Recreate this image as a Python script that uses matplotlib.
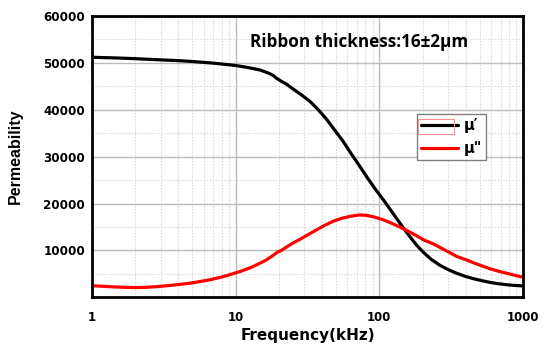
import matplotlib
matplotlib.use("Agg")
import matplotlib.pyplot as plt
from matplotlib.patches import Rectangle
from matplotlib.ticker import LogLocator, MultipleLocator, FixedLocator, NullFormatter

# Real part of permeability, mu'
freq_mu1 = [1, 1.5, 2, 3, 4, 5, 7, 10, 12, 14.8, 17, 18.3, 19.3, 20.5, 22.5,
            25.2, 28.5, 32.9, 37.5, 42.9, 48.5, 55.9, 63.5, 72.9, 83, 95.5,
            107, 118.6, 132, 147, 165, 183, 202, 230, 264, 300, 345, 400, 451,
            520, 590, 680, 771, 880, 1000]
mu1 = [51200, 51050, 50900, 50650, 50480, 50300, 49950, 49450, 49050, 48480,
       47800, 47300, 46700, 46200, 45500, 44400, 43250, 41800, 40050, 38000,
       35800, 33300, 30700, 28000, 25400, 22750, 20750, 18820, 16820, 14800,
       12750, 11050, 9650, 8100, 6850, 5950, 5150, 4450, 4000, 3550, 3200,
       2900, 2700, 2550, 2450]

# Imaginary part of permeability, mu''
freq_mu2 = [1, 1.3, 1.65, 2, 2.4, 2.8, 3.5, 4.8, 6.5, 8.2, 10.7, 12.5, 14,
            16.4, 18.5, 19.5, 20.5, 22.5, 25, 28.1, 32, 36.7, 41.5, 47.5, 54.5,
            62.6, 72.9, 81, 92, 106, 122, 139, 160, 182, 202, 240, 290, 345,
            403, 451, 520, 590, 680, 771, 880, 1000]
mu2 = [2500, 2300, 2160, 2100, 2150, 2290, 2550, 3020, 3700, 4430, 5500, 6250,
       6940, 8000, 9100, 9650, 9900, 10700, 11580, 12400, 13400, 14430, 15350,
       16210, 16850, 17280, 17580, 17500, 17150, 16570, 15800, 15010, 14050,
       13150, 12300, 11350, 10000, 8750, 8000, 7400, 6700, 6100, 5550, 5150,
       4700, 4300]

x_ticks = [1, 10, 100, 1000]
x_ticklabels = ["1", "10", "100", "1000"]
y_ticks = [10000, 20000, 30000, 40000, 50000, 60000]
y_ticklabels = ["10000", "20000", "30000", "40000", "50000", "60000"]
series_labels = ["\u03bc\u2032", "\u03bc\""]
note = "Ribbon thickness:16\u00b12\u03bcm"

fig = plt.figure(figsize=(5.44, 3.45), dpi=100)
ax = fig.add_axes([92 / 544, (345 - 297.4) / 345, 431 / 544, 281.4 / 345])

ax.set_xscale("log")
ax.set_xlim(1, 1000)
ax.set_ylim(0, 60000)

# grid: solid major lines, dotted minor lines
ax.xaxis.set_major_locator(FixedLocator(x_ticks))
ax.xaxis.set_minor_locator(LogLocator(base=10, subs=range(2, 10)))
ax.xaxis.set_minor_formatter(NullFormatter())
ax.yaxis.set_major_locator(FixedLocator(y_ticks))
ax.yaxis.set_minor_locator(MultipleLocator(5000))
ax.grid(which="major", color="#bcbcbc", linewidth=1.0, linestyle="-")
ax.grid(which="minor", color="#d4d4d4", linewidth=0.8, linestyle=(0, (1.2, 1.5)))
ax.set_axisbelow(True)

ax.set_xticklabels(x_ticklabels)
ax.set_yticklabels(y_ticklabels)
ax.tick_params(which="both", length=0)
ax.tick_params(axis="x", pad=10, labelsize=8.5)
ax.tick_params(axis="y", pad=5, labelsize=8.6)
for lab in ax.get_xticklabels() + ax.get_yticklabels():
    lab.set_fontweight("bold")
    lab.set_family("DejaVu Sans")

for sp in ax.spines.values():
    sp.set_linewidth(2.0)
    sp.set_color("black")

l1, = ax.plot(freq_mu1, mu1, color="black", linewidth=2.3, label=series_labels[0],
              solid_joinstyle="round", solid_capstyle="round")
l2, = ax.plot(freq_mu2, mu2, color="#ff0000", linewidth=2.3, label=series_labels[1],
              solid_joinstyle="round", solid_capstyle="round")

ax.set_xlabel("Frequency(kHz)", fontsize=11, fontweight="bold", family="DejaVu Sans",
              labelpad=3)
ax.set_ylabel("Permeability", fontsize=11.5, fontweight="bold", family="Liberation Sans",
              labelpad=15)

ax.text(12.6, 54400, note, fontsize=12.3, fontweight="bold", family="Open Sans",
        ha="left", va="center")

leg = ax.legend(handles=[l1, l2], loc="upper left",
                bbox_to_anchor=((417 - 92) / 431, (297.4 - 114) / 281.4),
                borderaxespad=0, borderpad=0.3, handlelength=2.5,
                handletextpad=0.4, labelspacing=0.5, fancybox=False,
                framealpha=1, edgecolor="#808080",
                prop={"family": "DejaVu Sans", "weight": "bold", "size": 10.5})
leg.get_frame().set_linewidth(1.0)

# thin highlight box around the first legend handle
fig.patches.append(Rectangle((417.7 / 544, (345 - 134.3) / 345), 36.3 / 544, 15.3 / 345,
                             transform=fig.transFigure, fill=False,
                             edgecolor="#ff8c8c", linewidth=0.8, zorder=10))

fig.savefig("out.png", dpi=100)
